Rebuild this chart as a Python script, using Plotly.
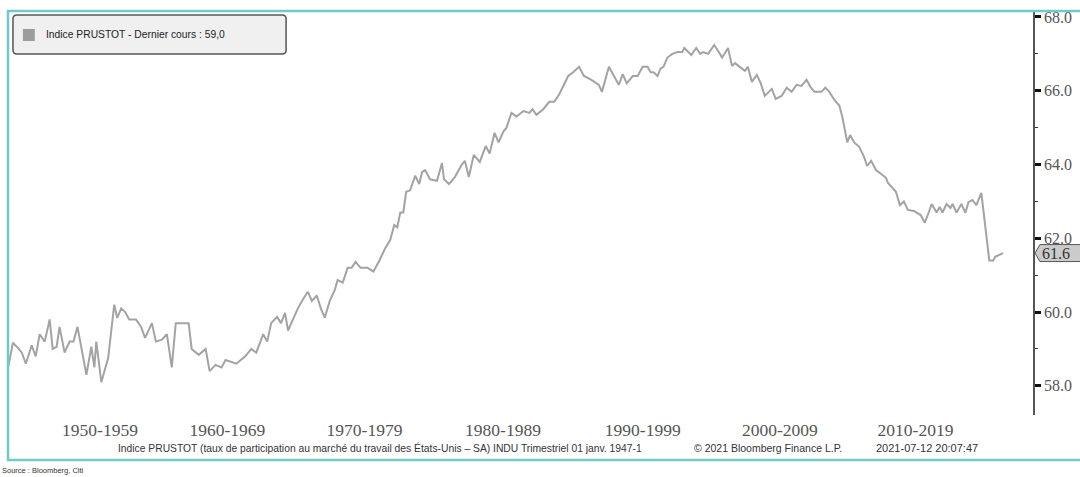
import plotly.graph_objects as go

# ---------------- data ----------------
years = [1949.0, 1949.35, 1949.71, 1950.0, 1950.29, 1950.72, 1951.01, 1951.3, 1951.67, 1952.03,
         1952.25, 1952.54, 1952.75, 1953.12, 1953.48, 1953.77, 1954.06, 1954.35, 1954.71, 1955.07,
         1955.29, 1955.43, 1955.8, 1956.3, 1956.74, 1956.96, 1957.25, 1957.54, 1957.83, 1958.33,
         1958.7, 1958.99, 1959.49, 1959.78, 1960.22, 1960.58, 1960.94, 1961.23, 1962.17, 1962.39,
         1962.9, 1963.41, 1963.7, 1964.13, 1964.57, 1964.86, 1965.65, 1966.3, 1966.74, 1967.1,
         1967.61, 1967.9, 1968.19, 1968.62, 1968.91, 1969.2, 1969.42, 1970.14, 1970.51, 1970.87,
         1971.16, 1971.52, 1971.81, 1972.1, 1972.46, 1972.83, 1973.04, 1973.41, 1973.77, 1974.06,
         1974.35, 1974.71, 1975.22, 1975.65, 1976.09, 1976.52, 1976.88, 1977.17, 1977.39, 1977.61,
         1977.83, 1978.04, 1978.33, 1978.7, 1978.99, 1979.2, 1979.42, 1979.78, 1980.29, 1980.65,
         1980.8, 1981.16, 1981.59, 1982.1, 1982.32, 1982.61, 1982.97, 1983.41, 1983.84, 1984.13,
         1984.49, 1984.78, 1985.14, 1985.36, 1985.72, 1986.09, 1986.59, 1987.03, 1987.25, 1987.54,
         1988.04, 1988.48, 1988.84, 1989.2, 1989.86, 1990.22, 1990.65, 1991.01, 1991.52, 1992.1,
         1992.32, 1992.83, 1993.19, 1993.55, 1993.84, 1994.13, 1994.57, 1994.93, 1995.29, 1995.65,
         1995.87, 1996.09, 1996.38, 1996.59, 1996.81, 1997.1, 1997.46, 1997.83, 1998.19, 1998.33,
         1998.84, 1999.2, 1999.49, 1999.71, 2000.07, 2000.51, 2000.8, 2001.09, 2001.52, 2001.81,
         2002.03, 2002.39, 2002.75, 2002.97, 2003.26, 2003.62, 2003.91, 2004.2, 2004.71, 2005.0,
         2005.43, 2005.8, 2006.16, 2006.52, 2006.88, 2007.25, 2007.54, 2007.83, 2008.33, 2008.62,
         2008.91, 2009.28, 2009.64, 2009.86, 2010.22, 2010.43, 2010.72, 2011.09, 2011.45, 2011.67,
         2011.96, 2012.32, 2012.68, 2013.04, 2013.19, 2013.48, 2013.77, 2014.06, 2014.35, 2014.64,
         2015.07, 2015.58, 2015.87, 2016.16, 2016.38, 2016.74, 2016.96, 2017.17, 2017.46, 2017.75,
         2017.9, 2018.19, 2018.55, 2018.84, 2019.06, 2019.35, 2019.64, 2020.0, 2020.58, 2020.87,
         2021.01, 2021.59]

prustot = [58.5, 59.17, 59.03, 58.9, 58.6, 59.1, 58.8, 59.4, 59.2, 59.8,
           59.0, 59.06, 59.6, 58.9, 59.2, 59.2, 59.6, 59.0, 58.3, 59.06,
           58.5, 59.2, 58.1, 58.76, 60.2, 59.84, 60.1, 60.0, 59.8, 59.8,
           59.6, 59.3, 59.7, 59.2, 59.25, 59.4, 58.5, 59.7, 59.7, 59.0,
           58.84, 59.0, 58.4, 58.57, 58.5, 58.7, 58.6, 58.8, 59.0, 58.9,
           59.4, 59.2, 59.7, 59.87, 59.7, 59.98, 59.5, 60.1, 60.35, 60.55,
           60.3, 60.45, 60.1, 59.85, 60.3, 60.6, 60.87, 60.8, 61.2, 61.2,
           61.36, 61.2, 61.2, 61.1, 61.4, 61.74, 61.96, 62.36, 62.3, 62.7,
           62.7, 63.26, 63.3, 63.7, 63.47, 63.8, 63.85, 63.6, 63.56, 64.04,
           63.6, 63.47, 63.66, 64.0, 64.1, 63.66, 64.26, 64.07, 64.5, 64.3,
           64.86, 64.6, 64.9, 65.0, 65.4, 65.3, 65.45, 65.4, 65.5, 65.35,
           65.5, 65.7, 65.7, 65.9, 66.4, 66.5, 66.65, 66.4, 66.3, 66.16,
           65.97, 66.65, 66.4, 66.16, 66.45, 66.2, 66.4, 66.4, 66.65, 66.65,
           66.5, 66.5, 66.4, 66.6, 66.65, 66.9, 67.0, 67.05, 67.05, 67.16,
           66.97, 67.16, 67.0, 67.05, 67.0, 67.24, 67.08, 66.9, 67.16, 66.67,
           66.75, 66.65, 66.54, 66.65, 66.24, 66.43, 66.2, 65.86, 66.05, 65.78,
           65.86, 66.08, 65.97, 66.16, 66.13, 66.3, 66.1, 65.97, 65.97, 66.08,
           65.97, 65.75, 65.6, 65.29, 64.6, 64.8, 64.6, 64.48, 64.2, 63.96,
           64.1, 63.85, 63.75, 63.64, 63.5, 63.37, 63.26, 62.9, 63.0, 62.77,
           62.74, 62.63, 62.42, 62.7, 62.93, 62.7, 62.85, 62.7, 62.93, 62.82,
           62.93, 62.7, 62.93, 62.69, 62.98, 63.04, 62.9, 63.23, 61.4, 61.4,
           61.5, 61.6]

decade_labels = ["1950-1959", "1960-1969", "1970-1979", "1980-1989",
                 "1990-1999", "2000-2009", "2010-2019"]
decade_label_pos = [1955.7, 1965.0, 1975.0, 1985.1, 1995.3, 2005.3, 2015.2]

legend_text = "Indice PRUSTOT - Dernier cours : 59,0"
footer_main = "Indice PRUSTOT (taux de participation au marché du travail des États-Unis – SA) INDU Trimestriel 01 janv. 1947-1"
footer_copy = "© 2021 Bloomberg Finance L.P."
footer_stamp = "2021-07-12 20:07:47"
source_text = "Source : Bloomberg, Citi"

# ---------------- layout helpers ----------------
W, H = 1080, 477
ML, MR, MT, MB = 8, 40, 12, 62
PW, PH = W - ML - MR, H - MT - MB


def px(x):
    return (x - ML) / PW


def py(y):
    return (H - MB - y) / PH


SANS = "Liberation Sans, Arial, sans-serif"
SERIF = "Liberation Serif, Times New Roman, serif"

fig = go.Figure()
fig.add_trace(go.Scatter(
    x=years, y=prustot, mode="lines",
    line=dict(color="#a3a3a3", width=2),
    showlegend=False, hoverinfo="skip", cliponaxis=True,
))

fig.update_layout(
    width=W, height=H,
    margin=dict(l=ML, r=MR, t=MT, b=MB),
    paper_bgcolor="white", plot_bgcolor="white",
    showlegend=False,
    xaxis=dict(
        range=[1948.99, 2023.77],
        showgrid=False, zeroline=False, showline=False,
        tickmode="array", tickvals=decade_label_pos, ticktext=decade_labels,
        ticks="", tickfont=dict(family=SERIF, size=17.5, color="#555555"),
        ticklabelstandoff=2,
    ),
    yaxis=dict(
        range=[57.21, 68.135], side="right",
        showgrid=False, zeroline=False,
        showline=True, linecolor="#555555", linewidth=1.5,
        tickmode="linear", tick0=58, dtick=2, tickformat=".1f",
        ticks="outside", ticklen=6, tickwidth=2.5, tickcolor="#111111",
        tickfont=dict(family=SERIF, size=16, color="#555555"),
        minor=dict(dtick=1, ticks="outside", ticklen=3, tickwidth=1, tickcolor="#333333"),
    ),
)

shapes = []
# teal frame around the chart
shapes.append(dict(type="rect", xref="paper", yref="paper",
                   x0=px(8), x1=px(1090), y0=py(460), y1=py(11),
                   line=dict(color="#6fcaca", width=2.5), fillcolor="rgba(0,0,0,0)",
                   layer="above"))

# legend box (rounded)
lx0, lx1, ly0, ly1, r = 13, 288, 15, 54, 4
path = (f"M {px(lx0 + r)} {py(ly0)} L {px(lx1 - r)} {py(ly0)} "
        f"Q {px(lx1)} {py(ly0)} {px(lx1)} {py(ly0 + r)} "
        f"L {px(lx1)} {py(ly1 - r)} Q {px(lx1)} {py(ly1)} {px(lx1 - r)} {py(ly1)} "
        f"L {px(lx0 + r)} {py(ly1)} Q {px(lx0)} {py(ly1)} {px(lx0)} {py(ly1 - r)} "
        f"L {px(lx0)} {py(ly0 + r)} Q {px(lx0)} {py(ly0)} {px(lx0 + r)} {py(ly0)} Z")
shapes.append(dict(type="path", xref="paper", yref="paper", path=path,
                   fillcolor="#f0f0f0", line=dict(color="#555555", width=1.5), layer="above"))
shapes.append(dict(type="rect", xref="paper", yref="paper",
                   x0=px(23), x1=px(35), y0=py(41), y1=py(29),
                   fillcolor="#9c9c9c", line=dict(width=0), layer="above"))

# last value tag on the right axis
last = prustot[-1]
hh = 0.23
tag = (f"M {px(1042)} {last} L {px(1047)} {last + hh} L {px(1090)} {last + hh} "
       f"L {px(1090)} {last - hh} L {px(1047)} {last - hh} Z")
shapes.append(dict(type="path", xref="paper", yref="y", path=tag,
                   fillcolor="#cbcbcb", line=dict(color="#555555", width=1), layer="above"))

annotations = [
    dict(text=legend_text, xref="paper", yref="paper", x=px(44), y=py(35),
         xanchor="left", yanchor="middle", showarrow=False,
         font=dict(family=SANS, size=10.3, color="#222222")),
    dict(text=f"{last:.1f}", xref="paper", yref="y", x=px(1047), y=last,
         xanchor="left", yanchor="middle", showarrow=False,
         font=dict(family=SERIF, size=16, color="#333333")),
    dict(text=footer_main, xref="paper", yref="paper", x=px(117), y=py(448),
         xanchor="left", yanchor="middle", showarrow=False,
         font=dict(family=SANS, size=10.3, color="#333333")),
    dict(text=footer_copy, xref="paper", yref="paper", x=px(697), y=py(448),
         xanchor="left", yanchor="middle", showarrow=False,
         font=dict(family=SANS, size=10.5, color="#333333")),
    dict(text=footer_stamp, xref="paper", yref="paper", x=px(880), y=py(448),
         xanchor="left", yanchor="middle", showarrow=False,
         font=dict(family=SANS, size=11, color="#333333")),
    dict(text=source_text, xref="paper", yref="paper", x=px(0), y=py(470),
         xanchor="left", yanchor="middle", showarrow=False,
         font=dict(family=SANS, size=7.5, color="#333333")),
]

fig.update_layout(shapes=shapes, annotations=annotations)
fig.write_html("out.html", config={"displayModeBar": False},
               post_script="document.body.style.margin='0';document.body.style.overflow='hidden';")
